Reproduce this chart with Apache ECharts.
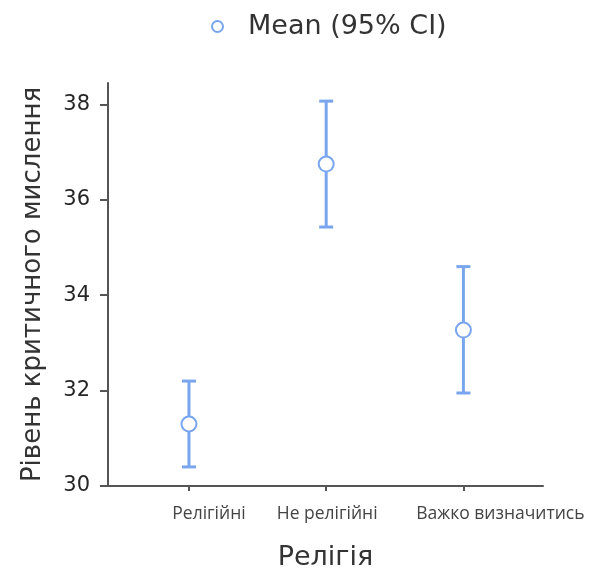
<!DOCTYPE html>
<html>
<head>
<meta charset="utf-8">
<script src="https://cdn.jsdelivr.net/npm/echarts@6/dist/echarts.min.js"></script>
<style>
  html, body { margin: 0; padding: 0; background: #fff; }
  #chart { width: 589px; height: 572px; }
</style>
</head>
<body>
<div id="chart"></div>
<script>
  // groups on the x axis
  var categories = ['Релігійні', 'Не релігійні', 'Важко визначитись'];
  // mean and 95% CI bounds per group
  var means = [31.3, 36.75, 33.27];
  var ciLow = [30.4, 35.43, 31.95];
  var ciHigh = [32.2, 38.07, 34.6];
  var yTicks = [30, 32, 34, 36, 38];

  var blue = '#78a5ee';
  var labelFont = { fontFamily: 'Open Sans', fontSize: 17.5, color: '#444' };

  var myChart = echarts.init(document.getElementById('chart'));

  var meanData = [];
  var ciData = [];
  for (var i = 0; i < categories.length; i++) {
    meanData.push([i, means[i]]);
    ciData.push([i, ciLow[i], ciHigh[i]]);
  }

  var option = {
    animation: false,
    legend: {
      top: 8,
      left: 206,
      itemWidth: 11,
      itemHeight: 11,
      textStyle: {
        fontFamily: 'DejaVu Sans',
        fontSize: 27,
        color: '#333',
        padding: [0, 0, 0, 20]
      },
      data: ['Mean (95% CI)']
    },
    grid: {
      left: 108,
      right: 46,
      top: 83,
      bottom: 86,
      outerBoundsMode: 'none'
    },
    xAxis: {
      type: 'value',
      min: -0.59,
      max: 2.58,
      name: 'Релігія',
      nameLocation: 'middle',
      nameGap: 58,
      nameTextStyle: { fontFamily: 'DejaVu Sans', fontSize: 27, color: '#333' },
      axisLine: { onZero: false, lineStyle: { color: '#555', width: 2 } },
      axisTick: { length: 5, lineStyle: { color: '#555', width: 2 }, customValues: [0, 1, 2] },
      axisLabel: {
        customValues: [0, 1, 2],
        margin: 19,
        formatter: function (v) {
          var k = Math.round(v);
          return '{c' + k + '|' + categories[k] + '}';
        },
        rich: {
          c0: Object.assign({ padding: [0, 0, 0, 40] }, labelFont),
          c1: Object.assign({ padding: [0, 0, 0, 2] }, labelFont),
          c2: Object.assign({ padding: [0, 0, 0, 74] }, labelFont)
        }
      },
      splitLine: { show: false }
    },
    yAxis: {
      type: 'value',
      min: 30,
      max: 38.45,
      name: 'Рівень критичного мислення',
      nameLocation: 'middle',
      nameGap: 62,
      nameTextStyle: { fontFamily: 'DejaVu Sans', fontSize: 26, color: '#333' },
      axisLine: { show: true, onZero: false, lineStyle: { color: '#555', width: 2 } },
      axisTick: { show: true, length: 8, lineStyle: { color: '#555', width: 2 }, customValues: yTicks },
      axisLabel: {
        customValues: yTicks,
        margin: 18,
        fontFamily: 'DejaVu Sans',
        fontSize: 21,
        color: '#262626'
      },
      splitLine: { show: false }
    },
    series: [
      {
        type: 'custom',
        name: 'ci',
        data: ciData,
        z: 2,
        renderItem: function (params, api) {
          var lo = api.coord([api.value(0), api.value(1)]);
          var hi = api.coord([api.value(0), api.value(2)]);
          var half = 7;
          var style = { stroke: blue, lineWidth: 3, fill: null };
          return {
            type: 'group',
            children: [
              { type: 'line', shape: { x1: lo[0], y1: lo[1], x2: hi[0], y2: hi[1] }, style: style },
              { type: 'line', shape: { x1: lo[0] - half, y1: lo[1], x2: lo[0] + half, y2: lo[1] }, style: style },
              { type: 'line', shape: { x1: hi[0] - half, y1: hi[1], x2: hi[0] + half, y2: hi[1] }, style: style }
            ]
          };
        }
      },
      {
        type: 'scatter',
        name: 'Mean (95% CI)',
        data: meanData,
        z: 3,
        symbol: 'circle',
        symbolSize: 15,
        itemStyle: { color: '#fff', borderColor: blue, borderWidth: 2, opacity: 1 }
      }
    ]
  };

  option && myChart.setOption(option);
</script>
</body>
</html>
